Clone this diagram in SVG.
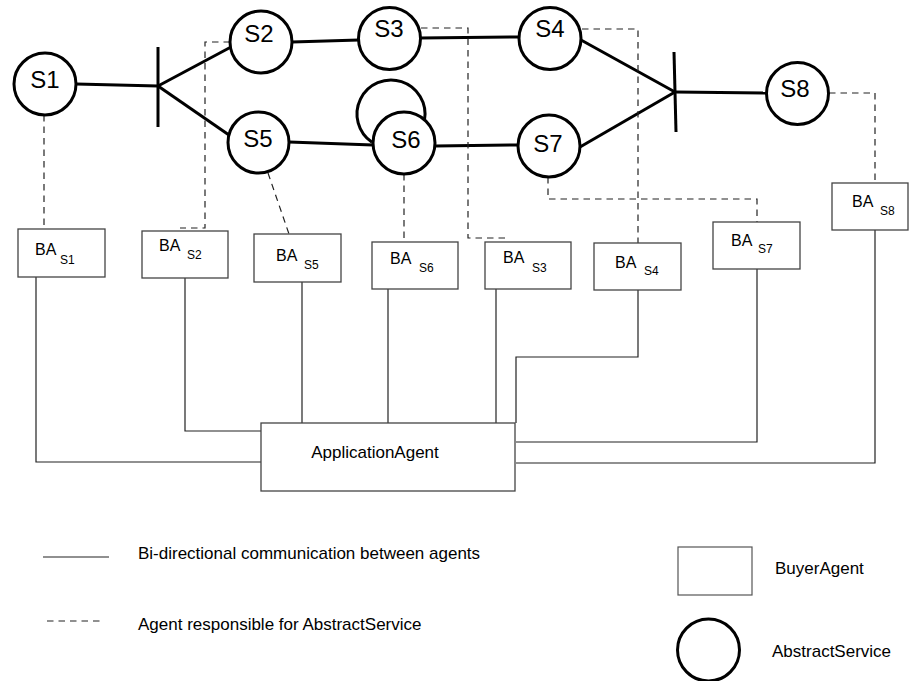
<svg xmlns="http://www.w3.org/2000/svg" width="910" height="681" viewBox="0 0 910 681">
  <style>
    text { font-family: "Liberation Sans", Arial, sans-serif; fill: #000; }
    .svc circle { fill: #fff; stroke: #000; stroke-width: 3; }
    .svc text { font-size: 24px; text-anchor: middle; }
    .agent rect { fill: #fff; stroke: #444; stroke-width: 1.3; }
    .ba { font-size: 16px; }
    .sub { font-size: 12px; }
    .flow { fill: none; stroke: #000; stroke-width: 3; }
    .comm { fill: none; stroke: #222; stroke-width: 1.2; }
    .resp { fill: none; stroke: #222; stroke-width: 1.2; stroke-dasharray: 6.5 5; }
    .lbl { font-size: 17px; }
  </style>

  <!-- workflow links between services, with split/join bars -->
  <g id="connectors">
    <g id="flow">
      <path class="flow" d="M76,84 L158,86"/>
      <path class="flow" d="M158,47 L158,127"/>
      <path class="flow" d="M158,86 L231,47"/>
      <path class="flow" d="M158,86 L229,135"/>
      <path class="flow" d="M292,42 L359,40"/>
      <path class="flow" d="M420,38 L519,37"/>
      <path class="flow" d="M289,142 L373,145"/>
      <path class="flow" d="M435,146 L518,145"/>
      <path class="flow" d="M581,40 L675,92"/>
      <path class="flow" d="M580,147 L675,92"/>
      <path class="flow" d="M674,52 L676,132"/>
      <path class="flow" d="M675,92 L766,93"/>
      <path class="flow" d="M372,142.2 A34,34 0 1 1 424.5,119.9"/>
    </g>
    <!-- responsibility links: service to its buyer agent -->
    <g id="responsibility">
      <path class="resp" d="M44,115 V229"/>
      <path class="resp" d="M230,42 H205 V228 H180"/>
      <path class="resp" d="M268,173 L289,234"/>
      <path class="resp" d="M404,174 V240"/>
      <path class="resp" d="M421,28 H468 V238 H510"/>
      <path class="resp" d="M582,29 H638 V243"/>
      <path class="resp" d="M548,177 V199 H757 V222"/>
      <path class="resp" d="M829,93 H875 V183"/>
    </g>
    <!-- communication links: buyer agents to the application agent -->
    <g id="communication">
      <path class="comm" d="M36,277 V462 H261"/>
      <path class="comm" d="M185,278 V431 H261"/>
      <path class="comm" d="M302,282 V423"/>
      <path class="comm" d="M388,289 V423"/>
      <path class="comm" d="M496,289 V423"/>
      <path class="comm" d="M638,290 V357 H516 V423"/>
      <path class="comm" d="M757,269 V442 H516"/>
      <path class="comm" d="M875,230 V463 H516"/>
    </g>
  </g>

  <!-- abstract services -->
  <g id="S1" class="svc"><circle cx="45" cy="84" r="31"/><text x="45" y="88">S1</text></g>
  <g id="S2" class="svc"><circle cx="261" cy="42" r="31"/><text x="259" y="42">S2</text></g>
  <g id="S3" class="svc"><circle cx="389.5" cy="38.5" r="31"/><text x="389" y="37">S3</text></g>
  <g id="S4" class="svc"><circle cx="550" cy="38.5" r="31"/><text x="550" y="37">S4</text></g>
  <g id="S5" class="svc"><circle cx="258.5" cy="142.5" r="30.5"/><text x="258" y="147">S5</text></g>
  <g id="S6" class="svc"><circle cx="404" cy="143" r="31"/><text x="406" y="148">S6</text></g>
  <g id="S7" class="svc"><circle cx="549" cy="146" r="31"/><text x="548" y="152">S7</text></g>
  <g id="S8" class="svc"><circle cx="797.5" cy="93.5" r="31"/><text x="795" y="97">S8</text></g>

  <!-- buyer agents -->
  <g id="BA_S1" class="agent"><rect x="18" y="229" width="87" height="48"/><text><tspan class="ba" x="35" y="255">BA</tspan><tspan class="sub" x="60" y="264">S1</tspan></text></g>
  <g id="BA_S2" class="agent"><rect x="142" y="231" width="86" height="47"/><text><tspan class="ba" x="159" y="251">BA</tspan><tspan class="sub" x="187" y="259">S2</tspan></text></g>
  <g id="BA_S5" class="agent"><rect x="254" y="234" width="87" height="48"/><text><tspan class="ba" x="276" y="261">BA</tspan><tspan class="sub" x="304" y="269">S5</tspan></text></g>
  <g id="BA_S6" class="agent"><rect x="372" y="242" width="86" height="47"/><text><tspan class="ba" x="390" y="264">BA</tspan><tspan class="sub" x="419" y="272">S6</tspan></text></g>
  <g id="BA_S3" class="agent"><rect x="485" y="242" width="86" height="47"/><text><tspan class="ba" x="503" y="263">BA</tspan><tspan class="sub" x="532" y="272">S3</tspan></text></g>
  <g id="BA_S4" class="agent"><rect x="594" y="243" width="87" height="47"/><text><tspan class="ba" x="615" y="268">BA</tspan><tspan class="sub" x="644" y="275">S4</tspan></text></g>
  <g id="BA_S7" class="agent"><rect x="713" y="222" width="87" height="47"/><text><tspan class="ba" x="731" y="246">BA</tspan><tspan class="sub" x="758" y="253">S7</tspan></text></g>
  <g id="BA_S8" class="agent"><rect x="832" y="183" width="76" height="47"/><text><tspan class="ba" x="852" y="207">BA</tspan><tspan class="sub" x="880" y="215">S8</tspan></text></g>

  <!-- application agent -->
  <g id="ApplicationAgent" class="agent"><rect x="261" y="423" width="254" height="68"/><text class="lbl" x="375" y="458" text-anchor="middle">ApplicationAgent</text></g>

  <!-- legend -->
  <g id="legend">
    <path class="comm" d="M43,557 H109"/>
    <text class="lbl" x="138" y="559">Bi-directional communication between agents</text>
    <path class="resp" d="M47,621 H100" stroke-dasharray="6.7 5"/>
    <text class="lbl" x="138" y="630">Agent responsible for AbstractService</text>
    <rect x="678" y="547" width="74" height="48" fill="#fff" stroke="#555" stroke-width="1.2"/>
    <text class="lbl" x="775" y="574">BuyerAgent</text>
    <circle cx="708.5" cy="650" r="31" fill="#fff" stroke="#000" stroke-width="3"/>
    <text class="lbl" x="772" y="657">AbstractService</text>
  </g>
</svg>
